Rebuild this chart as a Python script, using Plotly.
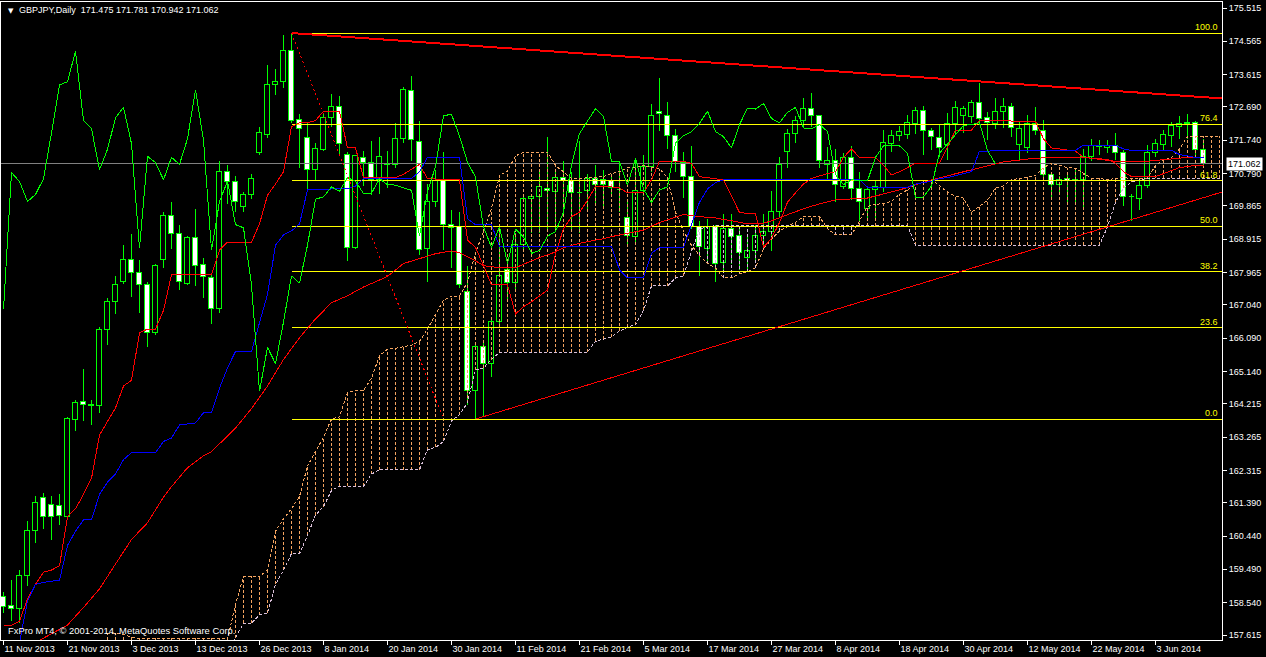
import plotly.graph_objects as go
import pandas as pd

# ---------------- DATA ----------------
SYMBOL = "GBPJPY"
TIMEFRAME = "Daily"
COPYRIGHT = "FxPro MT4, \u00a9 2001-2014, MetaQuotes Software Corp."
first_day = "2013-11-11"
holidays = ["2013-12-25", "2014-01-01"]

open_ = [
    158.71, 158.44, 158.36, 159.29, 160.58, 161.54, 161.34, 161.31, 160.99, 163.75,
    164.27, 164.16, 164.16, 166.32, 167.13, 167.69, 168.31, 167.96, 167.61, 166.24,
    168.31, 169.59, 169.06, 167.64, 168.94, 168.18, 167.81, 166.91, 170.84, 170.56,
    169.82, 170.19, 171.37, 171.89, 173.31, 173.41, 174.28, 172.33, 171.81, 170.90,
    171.46, 172.38, 172.68, 171.33, 168.66, 171.22, 171.10, 170.61, 171.04, 171.04,
    171.78, 173.15, 171.69, 168.63, 169.99, 170.57, 169.33, 169.27, 167.40, 164.57,
    165.83, 165.36, 166.55, 168.04, 167.66, 168.74, 170.06, 170.12, 170.34, 170.26,
    170.67, 170.57, 170.22, 170.29, 170.64, 170.61, 170.57, 170.32, 169.52, 168.98,
    170.28, 170.98, 172.535, 172.42, 171.86, 171.08, 170.70, 169.27, 168.63, 169.27,
    168.24, 169.21, 169.00, 168.39, 168.59, 169.00, 169.13, 169.68, 171.39, 171.93,
    172.28, 172.64, 172.42, 171.02, 171.135, 170.41, 171.22, 170.34, 169.79, 170.32,
    170.38, 171.64, 171.87, 171.89, 172.19, 172.57, 171.99, 171.81, 171.60, 172.19,
    172.42, 172.40, 172.79, 172.38, 172.21, 172.535, 172.675, 171.60, 171.51, 172.19,
    171.99, 170.76, 170.47, 170.64, 170.59, 170.61, 171.25, 171.54, 171.52, 171.58,
    171.37, 170.11, 170.06, 170.435, 171.37, 171.60, 171.87, 172.13, 172.19, 172.24,
    171.475]
high = [
    158.83, 159.18, 159.47, 160.87, 161.57, 161.68, 161.57, 161.63, 163.84, 164.31,
    165.21, 164.31, 166.41, 167.25, 167.87, 168.74, 169.07, 168.33, 167.69, 168.22,
    169.70, 169.99, 169.33, 169.00, 169.77, 168.39, 167.90, 171.14, 171.02, 170.73,
    170.26, 170.78, 172.13, 173.88, 173.78, 174.75, 174.80, 172.48, 172.24, 171.66,
    172.48, 173.06, 173.00, 171.40, 171.33, 171.43, 171.72, 171.83, 171.43, 172.24,
    173.26, 173.58, 172.29, 170.49, 170.90, 171.40, 169.74, 169.70, 168.16, 165.94,
    165.94, 166.64, 169.21, 168.28, 169.09, 170.17, 170.20, 170.84, 171.83, 170.84,
    171.14, 170.84, 171.72, 170.78, 171.02, 170.90, 170.78, 171.10, 170.03, 171.19,
    171.33, 172.77, 173.53, 172.83, 172.07, 171.40, 171.57, 169.44, 169.50, 169.33,
    169.62, 169.64, 169.21, 169.03, 169.33, 169.62, 170.28, 171.25, 172.07, 172.44,
    172.94, 173.08, 172.45, 171.54, 171.48, 171.37, 171.57, 170.84, 170.43, 170.61,
    172.04, 172.03, 172.15, 172.45, 172.69, 172.73, 172.10, 172.19, 172.51, 172.85,
    172.73, 172.89, 173.37, 172.535, 172.94, 172.94, 172.80, 172.30, 172.45, 172.69,
    172.32, 170.84, 170.73, 170.78, 170.90, 171.48, 171.78, 171.74, 171.74, 171.95,
    171.45, 170.20, 170.61, 171.60, 171.78, 172.03, 172.27, 172.44, 172.48, 172.30,
    171.781]
low = [
    158.24, 158.01, 157.95, 159.00, 160.23, 160.64, 160.34, 160.75, 160.93, 163.44,
    163.73, 163.61, 163.96, 165.89, 166.78, 167.64, 167.26, 166.82, 165.83, 166.18,
    168.08, 168.63, 167.46, 167.61, 167.58, 167.25, 166.49, 166.82, 169.91, 169.68,
    169.68, 170.05, 171.33, 171.80, 173.04, 173.23, 172.24, 170.96, 170.35, 170.59,
    171.43, 172.13, 171.31, 168.28, 168.63, 170.43, 170.17, 170.20, 170.38, 170.96,
    171.66, 171.14, 168.45, 167.69, 169.83, 168.60, 168.10, 167.52, 164.19, 163.78,
    163.84, 164.97, 166.41, 167.11, 167.40, 168.63, 169.09, 169.09, 169.15, 169.15,
    169.79, 169.15, 169.09, 169.79, 169.91, 169.85, 170.14, 169.68, 168.74, 168.74,
    170.14, 170.84, 171.99, 171.48, 170.84, 170.09, 169.21, 167.87, 168.28, 167.69,
    168.02, 168.22, 168.04, 168.04, 168.28, 168.74, 168.57, 169.56, 170.94, 171.66,
    172.13, 172.13, 170.94, 170.61, 169.97, 170.35, 170.03, 169.44, 169.44, 169.50,
    170.26, 171.40, 171.72, 171.78, 171.93, 171.31, 171.45, 171.25, 171.19, 171.89,
    171.95, 172.24, 172.27, 171.74, 172.07, 172.10, 171.83, 171.17, 171.37, 171.89,
    170.61, 170.03, 170.18, 169.94, 169.97, 169.74, 171.135, 171.31, 171.37, 171.19,
    169.85, 169.44, 169.74, 170.38, 171.25, 171.43, 171.54, 171.78, 171.78, 171.25,
    170.942]
close = [
    158.42, 158.36, 159.29, 160.58, 161.39, 160.99, 160.99, 161.02, 163.79, 164.25,
    164.19, 164.17, 166.32, 167.13, 167.61, 168.31, 167.96, 167.61, 166.24, 168.16,
    169.59, 169.06, 167.69, 168.94, 168.16, 167.83, 166.91, 170.82, 170.56, 169.99,
    170.19, 170.64, 171.95, 173.32, 173.41, 174.28, 172.30, 172.07, 170.90, 171.48,
    172.38, 172.68, 171.64, 168.66, 171.28, 171.10, 170.61, 171.25, 171.05, 171.78,
    173.18, 171.74, 168.60, 169.99, 170.57, 169.33, 169.24, 167.61, 164.57, 165.83,
    165.36, 166.55, 167.87, 167.66, 168.74, 170.06, 170.12, 170.41, 170.28, 170.67,
    170.57, 170.22, 170.23, 170.64, 170.47, 170.46, 170.38, 170.31, 169.00, 170.28,
    170.98, 172.44, 172.48, 171.86, 171.11, 170.69, 169.27, 168.68, 169.27, 168.22,
    169.21, 168.98, 168.51, 168.59, 169.00, 169.13, 169.68, 171.04, 171.93, 172.28,
    172.64, 172.42, 171.135, 171.135, 170.46, 171.22, 170.34, 169.97, 170.32, 170.41,
    171.66, 171.87, 171.98, 172.22, 172.57, 171.99, 171.84, 171.52, 172.19, 172.65,
    172.63, 172.79, 172.36, 172.24, 172.535, 172.675, 172.09, 172.07, 172.19, 171.99,
    170.76, 170.47, 170.61, 170.59, 170.58, 171.25, 171.58, 171.58, 171.58, 171.37,
    170.11, 170.12, 170.435, 171.37, 171.625, 171.89, 172.16, 172.19, 172.24, 171.45,
    171.062]

# Ichimoku Tenkan-sen (red) and Kijun-sen (blue), one value per bar
tenkan = [
    157.89, 157.89, 158.01, 158.65, 159.06, 159.41, 159.47, 159.59, 160.99, 161.22,
    161.63, 162.09, 163.32, 163.73, 164.10, 164.72, 164.89, 166.24, 166.35, 166.35,
    166.88, 167.90, 167.90, 167.90, 167.90, 167.90, 167.90, 168.60, 168.83, 168.83,
    168.83, 168.83, 169.35, 170.17, 170.49, 170.84, 172.13, 172.24, 172.24, 172.30,
    172.57, 172.57, 172.57, 171.52, 171.52, 170.67, 170.67, 170.67, 170.67, 170.67,
    170.77, 170.92, 171.05, 170.64, 170.63, 170.63, 170.61, 170.61, 168.89, 168.68,
    168.16, 167.61, 167.61, 167.61, 166.78, 166.99, 167.13, 167.29, 167.46, 168.51,
    169.21, 169.56, 169.68, 170.03, 170.42, 170.43, 170.41, 170.38, 170.24, 170.24,
    170.24, 170.61, 171.14, 171.14, 171.14, 171.14, 171.08, 170.70, 170.67, 170.65,
    170.61, 170.14, 169.68, 169.65, 169.65, 168.68, 168.94, 169.39, 169.97, 170.24,
    170.49, 170.65, 170.73, 170.79, 170.84, 171.25, 171.49, 171.25, 171.25, 171.25,
    171.02, 170.75, 170.84, 170.96, 171.08, 171.08, 171.08, 171.08, 171.54, 172.03,
    172.03, 172.03, 172.30, 172.30, 172.30, 172.30, 172.30, 172.29, 172.28, 172.28,
    171.78, 171.52, 171.49, 171.45, 171.43, 171.25, 171.23, 171.21, 171.19, 171.08,
    170.84, 170.70, 170.69, 170.69, 170.70, 170.79, 170.87, 170.96, 170.99, 171.02,
    171.02]
kijun = [
    157.00, 157.10, 157.40, 158.59, 159.06, 159.12, 159.15, 159.18, 160.17, 160.58,
    160.90, 160.90, 161.63, 161.98, 162.21, 162.62, 162.82, 162.82, 162.82, 162.82,
    163.14, 163.24, 163.61, 163.64, 163.67, 163.96, 163.96, 164.66, 165.24, 165.71,
    165.71, 165.71, 166.53, 167.34, 168.74, 169.04, 169.15, 169.35, 170.32, 170.32,
    170.32, 170.35, 170.35, 170.35, 170.43, 170.65, 170.65, 170.65, 170.65, 170.65,
    170.65, 170.65, 170.84, 171.25, 171.25, 171.25, 171.25, 171.25, 169.50, 169.33,
    169.33, 169.33, 168.71, 168.71, 168.71, 168.71, 168.71, 168.71, 168.71, 168.71,
    168.71, 168.71, 168.71, 168.71, 168.71, 168.71, 168.71, 168.04, 167.81, 167.81,
    167.81, 168.51, 168.68, 168.68, 168.68, 168.68, 169.33, 169.97, 170.35, 170.53,
    170.61, 170.61, 170.61, 170.61, 170.61, 170.61, 170.61, 170.61, 170.61, 170.61,
    170.61, 170.61, 170.61, 170.61, 170.61, 170.61, 170.61, 170.61, 170.40, 170.40,
    170.40, 170.40, 170.40, 170.40, 170.49, 170.52, 170.57, 170.65, 170.67, 170.73,
    170.79, 170.84, 171.43, 171.43, 171.43, 171.43, 171.43, 171.43, 171.43, 171.43,
    171.43, 171.43, 171.43, 171.43, 171.45, 171.60, 171.60, 171.60, 171.60, 171.60,
    171.49, 171.45, 171.45, 171.45, 171.45, 171.45, 171.45, 171.33, 171.28, 171.25,
    171.25]
chikou_shift = 26

# Senkou Span A / B, from bar index span_start up to 2 bars into the future
span_start = 13
span_a = [
    157.66, 157.66, 157.64, 157.55, 157.52, 157.52, 157.52, 157.52, 157.52, 157.52,
    157.52, 157.52, 157.52, 157.52, 157.52, 157.49, 158.48, 159.29, 159.29, 159.29,
    159.47, 160.58, 160.93, 161.22, 161.57, 162.44, 162.85, 163.26, 163.79, 163.84,
    164.54, 164.60, 164.60, 164.95, 165.59, 165.77, 165.80, 165.85, 165.89, 166.00,
    166.35, 166.76, 167.17, 167.29, 167.29, 167.69, 168.51, 169.15, 169.79, 170.73,
    170.87, 171.29, 171.40, 171.40, 171.40, 171.40, 171.02, 170.84, 170.65, 170.65,
    170.67, 170.70, 170.70, 170.79, 170.84, 170.96, 170.96, 171.02, 170.96, 170.93,
    170.67, 169.68, 169.15, 168.74, 168.45, 168.22, 168.10, 167.81, 167.81, 167.93,
    167.99, 168.10, 168.63, 168.92, 169.15, 169.27, 169.40, 169.56, 169.56, 169.56,
    169.21, 169.04, 169.04, 169.04, 169.44, 169.85, 169.91, 169.93, 170.00, 170.20,
    170.32, 170.49, 170.55, 170.61, 170.44, 170.26, 170.14, 170.09, 169.68, 169.85,
    170.03, 170.38, 170.44, 170.61, 170.65, 170.69, 170.73, 170.96, 171.08, 171.02,
    170.96, 170.94, 170.79, 170.65, 170.65, 170.61, 170.65, 170.67, 170.65, 170.65,
    170.65, 171.02, 171.17, 171.25, 171.49, 171.86, 171.86, 171.86, 171.86, 171.86]
span_b = [
    157.20, 157.20, 157.20, 157.20, 157.20, 157.20, 157.20, 157.20, 157.20, 157.20,
    157.20, 157.20, 157.20, 157.20, 157.20, 157.20, 157.54, 157.95, 157.95, 158.19,
    158.24, 159.06, 159.47, 159.94, 159.94, 160.46, 161.04, 161.28, 161.74, 161.86,
    161.86, 161.86, 161.86, 162.21, 162.33, 162.33, 162.33, 162.33, 162.33, 162.33,
    162.91, 162.97, 163.14, 163.73, 163.90, 164.25, 165.19, 165.24, 165.48, 165.69,
    165.69, 165.69, 165.69, 165.69, 165.69, 165.69, 165.69, 165.69, 165.69, 165.69,
    165.69, 166.00, 166.06, 166.12, 166.29, 166.41, 166.47, 166.88, 167.58, 167.58,
    167.58, 167.81, 167.87, 168.57, 169.21, 169.27, 169.30, 169.30, 169.30, 169.30,
    169.30, 169.30, 169.30, 169.30, 169.30, 169.30, 169.30, 169.30, 169.30, 169.30,
    169.30, 169.30, 169.30, 169.30, 169.30, 169.30, 169.30, 169.30, 169.30, 169.30,
    169.30, 168.74, 168.74, 168.74, 168.74, 168.74, 168.74, 168.74, 168.74, 168.74,
    168.74, 168.74, 168.74, 168.74, 168.74, 168.74, 168.74, 168.74, 168.74, 168.74,
    168.74, 168.74, 168.74, 168.74, 168.74, 169.27, 169.97, 170.38, 170.55, 170.61,
    170.65, 170.65, 170.65, 170.65, 170.65, 170.65, 170.65, 170.65, 170.65, 170.65]

# Moving average (red) read at selected bars
ma_bar = [4, 8, 10, 12, 14, 16, 18, 20, 21, 23, 25, 26, 29, 31, 33, 35, 37, 39, 41, 43,
          45, 48, 50, 52, 54, 56, 57, 59, 60, 62, 64, 65, 67, 69, 70, 72, 75, 77, 80, 82,
          85, 87, 89, 91, 93, 95, 96, 99, 101, 104, 108, 112, 116, 120, 125, 129, 135, 139, 143, 148,
          150]
ma_val = [157.40, 157.90, 158.40, 158.93, 159.64, 160.34, 160.82, 161.55, 161.85, 162.39,
          162.73, 162.85, 163.52, 164.08, 164.72, 165.48, 166.10, 166.64, 167.10, 167.30,
          167.55, 167.85, 168.22, 168.37, 168.50, 168.58, 168.53, 168.30, 168.16, 168.10,
          168.10, 168.20, 168.39, 168.55, 168.67, 168.80, 168.93, 169.04, 169.17, 169.39,
          169.62, 169.56, 169.52, 169.44, 169.35, 169.37, 169.44, 169.70, 169.86, 170.04,
          170.09, 170.32, 170.61, 170.84, 171.12, 171.23, 171.25, 171.14, 171.14, 171.25,
          171.25]

# Drawing objects (anchor bar, anchor price)
trend_upper_bar = [36, 150]
trend_upper_px = [174.80, 172.97]
trend_lower_bar = [59, 150]
trend_lower_px = [163.78, 170.10]
fib_bar = [36, 55]
fib_px = [174.80, 163.78]
fib_levels = [0.0, 23.6, 38.2, 50.0, 61.8, 76.4, 100.0]
bid = 171.062

price_ticks = [175.515, 174.565, 173.615, 172.690, 171.740, 170.790, 169.865, 168.915,
               167.965, 167.040, 166.090, 165.140, 164.215, 163.265, 162.315, 161.390,
               160.440, 159.490, 158.540, 157.615]
date_ticks = ["2013-11-11", "2013-11-21", "2013-12-03", "2013-12-13", "2013-12-26",
              "2014-01-08", "2014-01-20", "2014-01-30", "2014-02-11", "2014-02-21",
              "2014-03-05", "2014-03-17", "2014-03-27", "2014-04-08", "2014-04-18",
              "2014-04-30", "2014-05-12", "2014-05-22", "2014-06-03"]

# ---------------- STYLE ----------------
FONT = "Liberation Sans, Arial, sans-serif"
LIME = "#00FF00"
SANDY = "#F4A460"
THISTLE = "#D8BFD8"
YELLOW = "#FFFF00"
RED = "#FF0000"
BLUE = "#0000FF"
W, H = 1266, 657
ML, MR, MT, MB = 1, 44, 2, 17
BAR_PX = 8.0
FIRST_BAR_PX = 3.5
Y_TOP_PX, Y_TOP_PRICE = 8, 175.515
Y_BOT_PX, Y_BOT_PRICE = 635, 157.615
DOT = "3px,2px"

# ---------------- DERIVED ----------------
all_days = [d for d in pd.bdate_range(first_day, periods=200) if d.strftime("%Y-%m-%d") not in holidays]
day_index = {d.strftime("%Y-%m-%d"): i for i, d in enumerate(all_days)}
tick_pos = [day_index[d] for d in date_ticks]
tick_txt = [f"{pd.Timestamp(d).day} {pd.Timestamp(d).strftime('%b %Y')}" for d in date_ticks]

plot_w = W - ML - MR
plot_h = H - MT - MB
x0 = (ML - FIRST_BAR_PX) / BAR_PX
x1 = x0 + plot_w / BAR_PX
ppx = (Y_BOT_PX - Y_TOP_PX) / (Y_TOP_PRICE - Y_BOT_PRICE)
y1 = Y_TOP_PRICE + (Y_TOP_PX - MT) / ppx
y0 = Y_BOT_PRICE - (MT + plot_h - Y_BOT_PX) / ppx

n = len(close)
bars = list(range(n))

fig = go.Figure()

# bid line
fig.add_trace(go.Scatter(x=[x0, x1], y=[bid, bid], mode="lines",
                         line=dict(color="#808080", width=1), hoverinfo="skip"))

# candle bodies
body_lo = [min(o, c) for o, c in zip(open_, close)]
body_hi = [max(o, c) for o, c in zip(open_, close)]
body_h = [max(h_ - l_, 0.012) for h_, l_ in zip(body_hi, body_lo)]
body_col = ["#FFFFFF" if c < o else "#000000" for o, c in zip(open_, close)]
fig.add_trace(go.Bar(x=bars, y=body_h, base=body_lo, width=0.62,
                     marker=dict(color=body_col, line=dict(color=LIME, width=1)),
                     hoverinfo="skip"))

# wicks
wx, wy = [], []
for i in bars:
    wx += [i, i, None, i, i, None]
    wy += [high[i], body_hi[i], None, body_lo[i], low[i], None]
fig.add_trace(go.Scatter(x=wx, y=wy, mode="lines", line=dict(color=LIME, width=1),
                         hoverinfo="skip"))

# cloud hatching
span_idx = list(range(span_start, span_start + len(span_a)))
hx_s, hy_s, hx_t, hy_t = [], [], [], []
for i, a, b in zip(span_idx, span_a, span_b):
    if a >= b:
        hx_s += [i, i, None]; hy_s += [b, a, None]
    else:
        hx_t += [i, i, None]; hy_t += [a, b, None]
fig.add_trace(go.Scatter(x=hx_s, y=hy_s, mode="lines",
                         line=dict(color=SANDY, width=1, dash=DOT), hoverinfo="skip"))
fig.add_trace(go.Scatter(x=hx_t, y=hy_t, mode="lines",
                         line=dict(color=THISTLE, width=1, dash=DOT), hoverinfo="skip"))
fig.add_trace(go.Scatter(x=span_idx, y=span_a, mode="lines",
                         line=dict(color=SANDY, width=1, dash=DOT), hoverinfo="skip"))
fig.add_trace(go.Scatter(x=span_idx, y=span_b, mode="lines",
                         line=dict(color=THISTLE, width=1, dash=DOT), hoverinfo="skip"))

# fib levels
fib_lo, fib_hi = fib_px[1], fib_px[0]
for lv in fib_levels:
    p = fib_lo + (fib_hi - fib_lo) * lv / 100.0
    fig.add_trace(go.Scatter(x=[fib_bar[0], x1], y=[p, p], mode="lines",
                             line=dict(color=YELLOW, width=1), hoverinfo="skip"))
    fig.add_annotation(x=1, xref="paper", y=p, yref="y", text=f"{lv:.1f}",
                       showarrow=False, xanchor="right", yanchor="bottom", xshift=-2,
                       yshift=-1, font=dict(family=FONT, size=9, color=YELLOW))

# moving average
fig.add_trace(go.Scatter(x=ma_bar, y=ma_val, mode="lines",
                         line=dict(color=RED, width=1), hoverinfo="skip"))
# tenkan / kijun
fig.add_trace(go.Scatter(x=bars, y=tenkan, mode="lines",
                         line=dict(color=RED, width=1), hoverinfo="skip"))
fig.add_trace(go.Scatter(x=bars, y=kijun, mode="lines",
                         line=dict(color=BLUE, width=1), hoverinfo="skip"))
# chikou
fig.add_trace(go.Scatter(x=[i - chikou_shift for i in bars[chikou_shift:]],
                         y=close[chikou_shift:], mode="lines",
                         line=dict(color=LIME, width=1), hoverinfo="skip"))


def ray(bx, px):
    slope = (px[1] - px[0]) / (bx[1] - bx[0])
    return [bx[0], x1], [px[0], px[0] + slope * (x1 - bx[0])]


for (bx, px), wdt in (((trend_upper_bar, trend_upper_px), 2), ((trend_lower_bar, trend_lower_px), 1)):
    rx, ry = ray(bx, px)
    fig.add_trace(go.Scatter(x=rx, y=ry, mode="lines", line=dict(color=RED, width=wdt),
                             hoverinfo="skip"))
# fib diagonal
fig.add_trace(go.Scatter(x=fib_bar, y=fib_px, mode="lines",
                         line=dict(color=RED, width=1, dash="2px,3px"), hoverinfo="skip"))

# texts
fig.add_annotation(x=0, y=1, xref="paper", yref="paper", text="\u25bc", showarrow=False,
                   xanchor="left", yanchor="top", xshift=5, yshift=-3,
                   font=dict(family="DejaVu Sans", size=7, color="white"))
hdr = f"{SYMBOL},{TIMEFRAME}  {open_[-1]:.3f} {high[-1]:.3f} {low[-1]:.3f} {close[-1]:.3f}"
fig.add_annotation(x=0, y=1, xref="paper", yref="paper", text=hdr, showarrow=False,
                   xanchor="left", yanchor="top", xshift=16, yshift=-1,
                   font=dict(family=FONT, size=9, color="white"))
fig.add_annotation(x=0, y=0, xref="paper", yref="paper", text=COPYRIGHT, showarrow=False,
                   xanchor="left", yanchor="bottom", xshift=5, yshift=2,
                   font=dict(family=FONT, size=9.4, color="white"))
fig.add_annotation(x=1, xref="paper", y=bid, yref="y", text=f"{bid:.3f}", showarrow=False,
                   xanchor="left", yanchor="middle", xshift=4, bgcolor="white",
                   borderpad=1, font=dict(family=FONT, size=9, color="black"))

fig.update_layout(
    width=W, height=H, margin=dict(l=ML, r=MR, t=MT, b=MB, pad=0),
    paper_bgcolor="black", plot_bgcolor="black", showlegend=False, bargap=0,
    xaxis=dict(range=[x0, x1], showgrid=False, zeroline=False, showline=True,
               linecolor="white", linewidth=1, mirror=True, ticks="outside",
               ticklen=4, tickcolor="white", tickvals=tick_pos, ticktext=tick_txt,
               ticklabelposition="outside right",
               tickfont=dict(family=FONT, size=9, color="white"), automargin=False),
    yaxis=dict(range=[y0, y1], side="right", showgrid=False, zeroline=False,
               showline=True, linecolor="white", linewidth=1, mirror=True,
               ticks="outside", ticklen=4, tickcolor="white", tickvals=price_ticks,
               ticktext=[f"{p:.3f}" for p in price_ticks],
               tickfont=dict(family=FONT, size=9, color="white"), automargin=False),
)

POST = (
    "document.body.style.margin='0';document.body.style.overflow='hidden';"
    "var s=document.createElement('style');"
    "s.innerHTML='.scatterlayer path, .barlayer path {shape-rendering:crispEdges;}';"
    "document.head.appendChild(s);"
)
fig.write_html("out.html", config={"displayModeBar": False}, post_script=POST)
